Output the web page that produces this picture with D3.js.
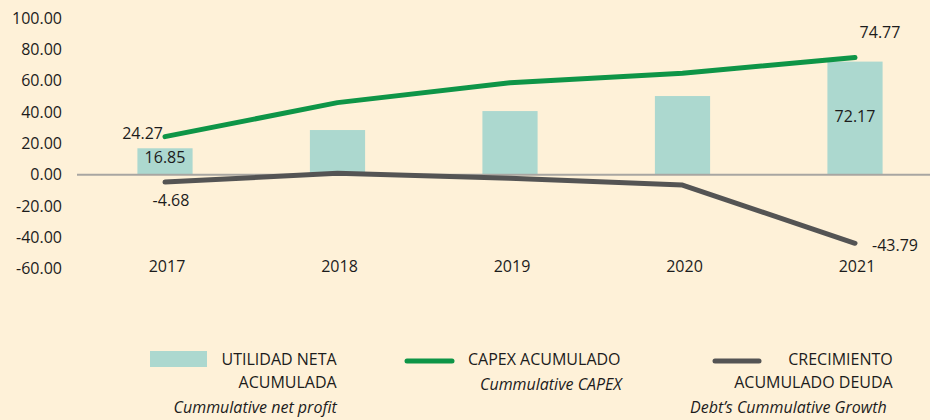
<!DOCTYPE html>
<html>
<head>
<meta charset="utf-8">
<script src="https://cdn.jsdelivr.net/npm/d3@7"></script>
<style>
  body { margin: 0; background: #fef1d8; }
  svg { display: block; font-family: "Open Sans", sans-serif; }
</style>
</head>
<body>
<svg width="930" height="420"></svg>
<script>
// values
var years = ["2017", "2018", "2019", "2020", "2021"];
var utilidadNeta = [16.85, 28.5, 40.6, 50.2, 72.17];       // bars
var capexAcumulado = [24.27, 46.0, 58.7, 64.7, 74.77];     // green line
var deudaCrecimiento = [-4.68, 0.9, -2.3, -6.6, -43.79];   // grey line
var yTicks = [100, 80, 60, 40, 20, 0, -20, -40, -60];

var svg = d3.select("svg"),
    width = +svg.attr("width"),
    textColor = "#1c1c1c";

var x = d3.scaleBand().domain(years).range([78.75, 941.25]).padding(0);
var y = d3.scaleLinear().domain([-60, 100]).range([268.7, 18.0]);
var cx = function(d, i) { return x(years[i]) + x.bandwidth() / 2; };
var barW = x.bandwidth() * 0.32;
var f = function(v) { return v.toFixed(2); }; // plain hyphen minus like the original

// y tick labels (no axis line in the original)
svg.append("g").selectAll("text")
   .data(yTicks)
   .enter().append("text")
   .attr("x", 62)
   .attr("y", function(d) { return y(d) + 5.7; })
   .attr("text-anchor", "end")
   .attr("font-size", "16px")
   .attr("fill", textColor)
   .text(f);

// bars
svg.append("g").selectAll("rect")
   .data(utilidadNeta)
   .enter().append("rect")
   .attr("x", function(d, i) { return cx(d, i) - barW / 2; })
   .attr("y", function(d) { return y(d); })
   .attr("width", barW)
   .attr("height", function(d) { return y(0) - y(d); })
   .attr("fill", "#acd8cf");

// zero line
svg.append("line")
   .attr("x1", 77).attr("x2", width)
   .attr("y1", y(0)).attr("y2", y(0))
   .attr("stroke", "#a8a6a2")
   .attr("stroke-width", 2);

var line = d3.line().x(cx).y(function(d) { return y(d); });

svg.append("path")
   .datum(deudaCrecimiento)
   .attr("d", line)
   .attr("fill", "none")
   .attr("stroke", "#545454")
   .attr("stroke-width", 5)
   .attr("stroke-linecap", "round")
   .attr("stroke-linejoin", "round");

svg.append("path")
   .datum(capexAcumulado)
   .attr("d", line)
   .attr("fill", "none")
   .attr("stroke", "#0e9547")
   .attr("stroke-width", 5)
   .attr("stroke-linecap", "round")
   .attr("stroke-linejoin", "round");

// x category labels
svg.append("g").selectAll("text")
   .data(years)
   .enter().append("text")
   .attr("x", function(d) { return x(d) + x.bandwidth() / 2 + 2; })
   .attr("y", 271.7)
   .attr("text-anchor", "middle")
   .attr("font-size", "16px")
   .attr("fill", textColor)
   .text(function(d) { return d; });

// data labels, only first and last year
var last = years.length - 1;
function label(txt, px, py, anchor) {
    svg.append("text")
       .attr("x", px).attr("y", py)
       .attr("text-anchor", anchor)
       .attr("font-size", "16px")
       .attr("fill", textColor)
       .text(txt);
}
label(f(capexAcumulado[0]), cx(0, 0) - 2, y(capexAcumulado[0]) + 2, "end");
label(f(capexAcumulado[last]), cx(0, last) + 25, y(capexAcumulado[last]) - 19.5, "middle");
label(f(utilidadNeta[0]), cx(0, 0), (y(utilidadNeta[0]) + y(0)) / 2 + 2, "middle");
label(f(utilidadNeta[last]), cx(0, last), (y(utilidadNeta[last]) + y(0)) / 2 + 4, "middle");
label(f(deudaCrecimiento[0]), cx(0, 0) + 6, y(deudaCrecimiento[0]) + 24, "middle");
label(f(deudaCrecimiento[last]), cx(0, last) + 17, y(deudaCrecimiento[last]) + 8, "start");

// legend
var lg = svg.append("g").attr("font-size", "16px").attr("fill", textColor);
lg.append("rect").attr("x", 150).attr("y", 351).attr("width", 57).attr("height", 16).attr("fill", "#acd8cf");
lg.append("text").attr("x", 336.7).attr("y", 365).attr("text-anchor", "end").text("UTILIDAD NETA");
lg.append("text").attr("x", 336.7).attr("y", 388).attr("text-anchor", "end").text("ACUMULADA");
lg.append("text").attr("x", 336.7).attr("y", 413).attr("text-anchor", "end").attr("font-style", "italic").text("Cummulative net profit");

lg.append("line").attr("x1", 407).attr("x2", 452).attr("y1", 361).attr("y2", 361)
  .attr("stroke", "#0e9547").attr("stroke-width", 5).attr("stroke-linecap", "round");
lg.append("text").attr("x", 468).attr("y", 365).text("CAPEX ACUMULADO");
lg.append("text").attr("x", 621.7).attr("y", 390).attr("text-anchor", "end").attr("font-style", "italic").text("Cummulative CAPEX");

lg.append("line").attr("x1", 715).attr("x2", 759).attr("y1", 361).attr("y2", 361)
  .attr("stroke", "#545454").attr("stroke-width", 5).attr("stroke-linecap", "round");
lg.append("text").attr("x", 892.7).attr("y", 365).attr("text-anchor", "end").text("CRECIMIENTO");
lg.append("text").attr("x", 892.7).attr("y", 388).attr("text-anchor", "end").text("ACUMULADO DEUDA");
lg.append("text").attr("x", 886.7).attr("y", 413).attr("text-anchor", "end").attr("font-style", "italic").text("Debt\u2019s Cummulative Growth");
</script>
</body>
</html>
